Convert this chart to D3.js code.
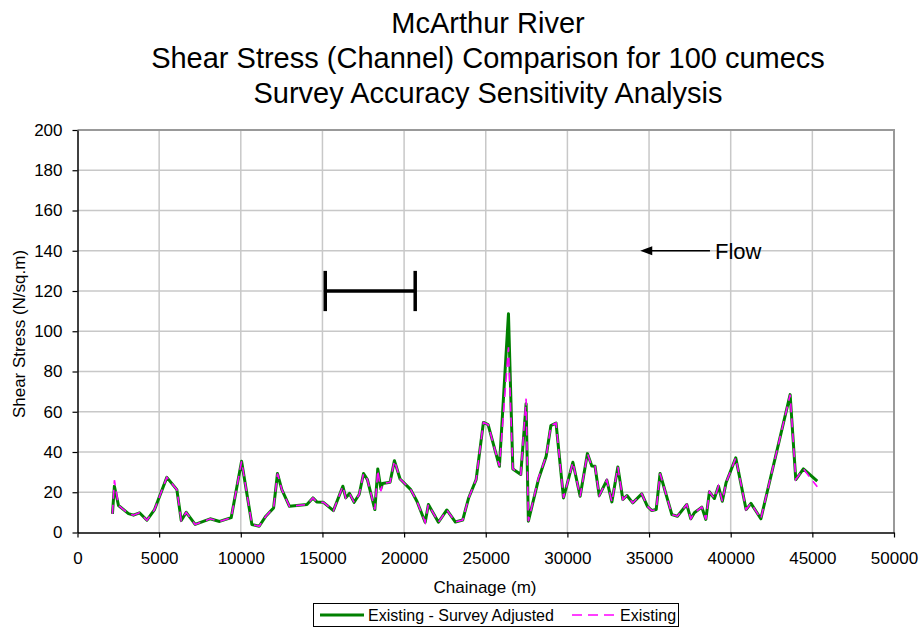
<!DOCTYPE html>
<html>
<head>
<meta charset="utf-8">
<script src="https://cdn.jsdelivr.net/npm/d3@7"></script>
<style>
  body { margin: 0; background: #fff; }
  text { font-family: "Liberation Sans", Arial, sans-serif; fill: #000; }
</style>
</head>
<body>
<svg id="chart" width="919" height="630"></svg>
<script>
// Chainage along the river (m)
const chainage = [
  2140, 2260, 2510, 3122, 3429, 3796, 4252, 4717, 5470, 6084,
  6352, 6659, 7204, 8125, 8699, 9413, 10047, 10680, 11126, 11532,
  12008, 12246, 12513, 12979, 14049, 14415, 14653, 15059, 15673, 16248,
  16426, 16654, 16941, 17248, 17516, 17754, 18209, 18388, 18576, 18675,
  19140, 19408, 19754, 20408, 20785, 21290, 21488, 22102, 22617, 23143,
  23588, 23945, 24411, 24857, 25144, 25836, 26391, 26659, 27144, 27471,
  27610, 28224, 28700, 28987, 29304, 29760, 30334, 30780, 31226, 31494,
  31692, 31949, 32415, 32722, 33089, 33396, 33644, 34001, 34555, 34902,
  35169, 35437, 35675, 36398, 36735, 37309, 37557, 37775, 38231, 38478,
  38696, 39003, 39251, 39489, 39715, 40309, 40943, 41241, 41846, 43639,
  43986, 44451, 45302
];

// Channel shear stress (N/sq.m), survey-adjusted geometry
const adjusted = [
  9.3, 23.0, 13.4, 9.4, 8.6, 9.8, 6.1, 11.4, 27.4, 21.3,
  6.0, 10.0, 4.0, 6.8, 5.5, 7.4, 35.4, 4.0, 3.1, 8.1,
  12.2, 29.3, 21.3, 13.0, 13.9, 17.2, 15.2, 15.0, 10.9, 23.0,
  17.2, 19.4, 15.0, 18.9, 29.3, 26.3, 11.4, 31.6, 21.7, 24.3,
  25.0, 35.7, 26.6, 21.3, 15.5, 5.1, 13.9, 5.1, 11.2, 5.2,
  6.2, 17.0, 26.3, 54.7, 53.6, 32.9, 108.7, 31.6, 28.8, 64.0,
  5.6, 26.3, 37.9, 53.1, 54.4, 17.2, 34.9, 18.0, 39.2, 33.0,
  32.9, 18.3, 26.0, 15.2, 32.6, 16.4, 18.4, 14.7, 19.2, 13.0,
  10.9, 11.4, 29.3, 8.9, 8.1, 13.9, 6.8, 9.8, 12.6, 6.5,
  20.2, 16.9, 23.0, 15.5, 24.7, 37.1, 11.4, 14.5, 6.8, 68.5,
  26.3, 31.6, 25.5
];

// Channel shear stress (N/sq.m), existing survey
const existing = [
  9.3, 26.0, 13.4, 9.4, 8.6, 9.8, 6.1, 11.4, 27.4, 21.3,
  6.0, 10.0, 4.0, 6.8, 5.5, 7.4, 35.4, 4.0, 3.1, 8.1,
  12.2, 29.3, 21.3, 13.0, 13.9, 17.2, 15.2, 15.0, 10.9, 23.0,
  17.2, 19.4, 15.0, 18.9, 29.3, 26.3, 11.4, 31.0, 20.5, 24.3,
  25.0, 35.7, 26.6, 21.3, 15.5, 5.1, 13.9, 5.1, 11.2, 5.2,
  6.2, 17.0, 26.3, 54.7, 53.6, 32.9, 92.0, 31.6, 28.8, 66.5,
  5.6, 27.0, 37.9, 53.1, 54.4, 17.2, 34.9, 18.0, 39.2, 33.0,
  32.9, 18.3, 26.0, 15.2, 32.6, 16.4, 18.4, 14.7, 19.2, 13.0,
  10.9, 11.4, 29.3, 8.9, 8.1, 13.9, 6.8, 9.8, 12.6, 6.5,
  20.2, 16.9, 23.0, 15.5, 24.7, 37.1, 11.4, 14.5, 6.8, 68.5,
  26.3, 31.6, 22.7
];

const xTicks = [0, 5000, 10000, 15000, 20000, 25000, 30000, 35000, 40000, 45000, 50000];
const yTicks = [0, 20, 40, 60, 80, 100, 120, 140, 160, 180, 200];

const titleLines = [
  "McArthur River",
  "Shear Stress (Channel) Comparison for 100 cumecs",
  "Survey Accuracy Sensitivity Analysis"
];
const seriesNames = ["Existing - Survey Adjusted", "Existing"];

// Length scale bar (chainage span at a given stress level)
const scaleBar = { from: 15170, to: 20680, level: 120, half: 10 };
// Flow direction arrow
const flowArrow = { from: 38730, to: 34460, level: 140, label: "Flow" };

const svg = d3.select("#chart");
const plotL = 77.5, plotR = 894, plotT = 130, plotB = 532.5;
const x = d3.scaleLinear().domain([0, 50000]).range([plotL, plotR]);
const y = d3.scaleLinear().domain([0, 200]).range([plotB, plotT]);

// Gridlines
const grid = svg.append("g");
grid.selectAll("line.h").data(yTicks.filter(d => d > 0 && d < 200)).join("line")
  .attr("class", "h")
  .attr("x1", plotL).attr("x2", plotR)
  .attr("y1", d => y(d)).attr("y2", d => y(d))
  .attr("stroke", "#c8c8c8").attr("stroke-width", 1.5);
grid.selectAll("line.v").data(xTicks.filter(d => d > 0 && d < 50000)).join("line")
  .attr("class", "v")
  .attr("y1", plotT).attr("y2", plotB)
  .attr("x1", d => x(d)).attr("x2", d => x(d))
  .attr("stroke", "#c8c8c8").attr("stroke-width", 1.5);

// Plot-area frame (top and right)
svg.append("path")
  .attr("d", `M${plotL},${plotT}H${plotR}V${plotB}`)
  .attr("fill", "none").attr("stroke", "#999").attr("stroke-width", 2);

// Axes
const yAxis = svg.append("g").attr("transform", `translate(${plotL},0)`)
  .call(d3.axisLeft(y).tickValues(yTicks).tickSize(5).tickPadding(10).tickSizeOuter(0));
const xAxis = svg.append("g").attr("transform", `translate(0,${plotB})`)
  .call(d3.axisBottom(x).tickValues(xTicks).tickSize(5).tickPadding(14).tickSizeOuter(0).tickFormat(d3.format("d")));
[yAxis, xAxis].forEach(g => {
  g.select(".domain").attr("stroke", "#000").attr("stroke-width", 1.5);
  g.selectAll(".tick line").attr("stroke", "#000").attr("stroke-width", 1.2);
  g.selectAll(".tick text").attr("font-size", 17).attr("fill", "#000")
    .style("font-family", '"Liberation Sans", Arial, sans-serif');
});

// Series lines
const pts = vals => chainage.map((c, i) => [c, vals[i]]);
const line = d3.line().x(d => x(d[0])).y(d => y(d[1]));
svg.append("path").datum(pts(adjusted)).attr("d", line)
  .attr("fill", "none").attr("stroke", "#008000").attr("stroke-width", 3)
  .attr("stroke-linejoin", "round");
svg.append("path").datum(pts(existing)).attr("d", line)
  .attr("fill", "none").attr("stroke", "#ff00ff").attr("stroke-width", 1.6)
  .attr("stroke-dasharray", "9,6");

// Scale bar
const sb = svg.append("g").attr("stroke", "#000").attr("stroke-width", 3.5);
sb.append("line").attr("x1", x(scaleBar.from)).attr("x2", x(scaleBar.to))
  .attr("y1", y(scaleBar.level)).attr("y2", y(scaleBar.level));
[scaleBar.from, scaleBar.to].forEach(c => {
  sb.append("line").attr("x1", x(c)).attr("x2", x(c))
    .attr("y1", y(scaleBar.level - scaleBar.half)).attr("y2", y(scaleBar.level + scaleBar.half));
});

// Flow arrow
const fy = y(flowArrow.level);
svg.append("line").attr("x1", x(flowArrow.from)).attr("x2", x(flowArrow.to) + 10)
  .attr("y1", fy).attr("y2", fy).attr("stroke", "#000").attr("stroke-width", 1.5);
svg.append("path")
  .attr("d", `M${x(flowArrow.to)},${fy}l12,-4.5v9z`).attr("fill", "#000");
svg.append("text").attr("x", x(flowArrow.from) + 5).attr("y", fy + 8.5)
  .attr("font-size", 22).text(flowArrow.label);

// Titles
svg.append("g").selectAll("text").data(titleLines).join("text")
  .attr("x", 488).attr("y", (d, i) => 33 + i * 35)
  .attr("text-anchor", "middle").attr("font-size", 29).text(d => d);

svg.append("text").attr("x", 485).attr("y", 593).attr("text-anchor", "middle")
  .attr("font-size", 17).text("Chainage (m)");
svg.append("text").attr("transform", "translate(25,334) rotate(-90)")
  .attr("text-anchor", "middle").attr("font-size", 17).text("Shear Stress (N/sq.m)");

// Legend
const lg = svg.append("g");
lg.append("rect").attr("x", 313.5).attr("y", 603.5).attr("width", 365).attr("height", 23)
  .attr("fill", "#fff").attr("stroke", "#000").attr("stroke-width", 1);
lg.append("line").attr("x1", 320).attr("x2", 364).attr("y1", 615).attr("y2", 615)
  .attr("stroke", "#008000").attr("stroke-width", 3);
lg.append("text").attr("x", 368).attr("y", 621).attr("font-size", 16).text(seriesNames[0]);
lg.append("line").attr("x1", 572).attr("x2", 614).attr("y1", 615).attr("y2", 615)
  .attr("stroke", "#ff00ff").attr("stroke-width", 1.6).attr("stroke-dasharray", "10,6");
lg.append("text").attr("x", 620).attr("y", 621).attr("font-size", 16).text(seriesNames[1]);
</script>
</body>
</html>
